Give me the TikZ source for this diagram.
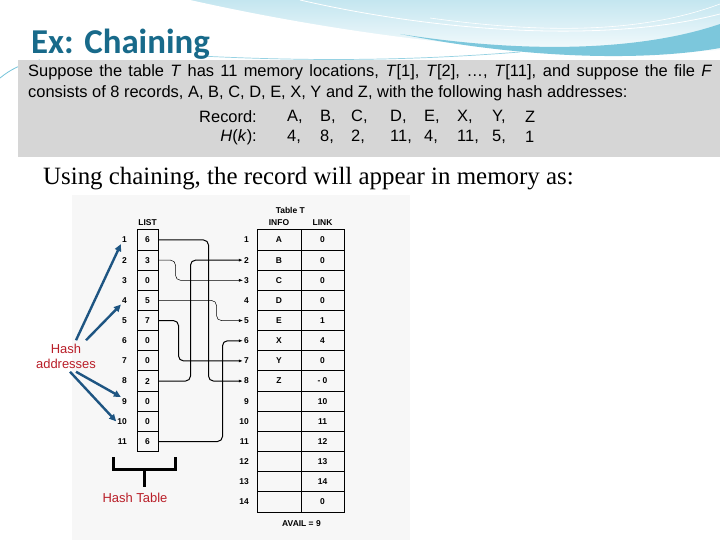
\documentclass[tikz,border=0pt]{standalone}
\usepackage{fontspec}
\setmainfont{Liberation Serif}
\setsansfont{Liberation Sans}
\newfontfamily\titlefont{Carlito}
\usetikzlibrary{arrows.meta, positioning}
\definecolor{slideTeal}{RGB}{24,106,138}
\definecolor{slideRed}{RGB}{185,30,40}
\definecolor{slideBlue}{RGB}{30,85,130}
\definecolor{scanGray}{RGB}{214,214,214}
\definecolor{waveCyan}{RGB}{80,180,208}
\definecolor{waveLight}{RGB}{196,230,240}

\begin{document}
\begin{tikzpicture}[x=1bp, y=-1bp,
  listcell/.style={rectangle, draw, line width=1bp, minimum width=21bp,
                   minimum height=20.15bp, inner sep=0pt,
                   font=\sffamily\bfseries\fontsize{8.5}{10}\selectfont},
  infocell/.style={listcell, minimum width=44bp},
  linkcell/.style={listcell, minimum width=43bp},
  idx/.style={anchor=east, inner sep=1bp,
              font=\sffamily\bfseries\fontsize{8.5}{10}\selectfont},
  head/.style={inner sep=1bp, font=\sffamily\bfseries\fontsize{8.5}{10}\selectfont},
  ptr/.style={-{Latex[length=4bp, width=3bp]}, line width=1bp, rounded corners=5bp},
  ptrthin/.style={ptr, line width=0.5bp},
  hasharrow/.style={-{Triangle[length=7bp, width=6.5bp]}, line width=2.4bp, slideBlue},
  redlabel/.style={font=\sffamily\fontsize{13}{15}\selectfont, text=slideRed, align=center},
  scantext/.style={anchor=west, inner sep=0pt, font=\sffamily\fontsize{16.5}{18}\selectfont},
]
  \useasboundingbox (0,0) rectangle (720,540);
  \fill[white] (0,0) rectangle (720,540);

  % slide banner
  \shade[top color=waveLight, bottom color=white] (0,0) rectangle (720,62);
  \fill[white] (190,0) .. controls (360,38) and (560,62) .. (720,50)
    -- (720,62) -- (0,62) -- (0,0) -- cycle;
  \fill[waveCyan!75] (400,34) .. controls (540,56) and (650,48) .. (720,24)
    -- (720,48) .. controls (640,62) and (520,58) .. (400,34) -- cycle;
  \draw[white, line width=0.8bp] (300,0) .. controls (430,30) and (600,45) .. (720,14);
  \draw[white, line width=0.6bp] (430,18) .. controls (560,36) and (650,30) .. (720,4);
  \draw[waveCyan!60, line width=0.7bp] (200,56) .. controls (320,62) and (420,60) .. (520,52);
  \draw[waveCyan!80, line width=0.8bp] (0,78) .. controls (10,70) and (20,64) .. (40,60);

  \node[anchor=base west, inner sep=0pt, text=slideTeal,
        font=\titlefont\bfseries\fontsize{35}{40}\selectfont] (title) at (31,54) {Ex: Chaining};

  % scanned problem statement
  \fill[scanGray] (18,60) rectangle (720,157);
  \node[scantext] (p1) at (28,72)
    {\makebox[684bp][s]{Suppose the table \textit{T} has 11 memory locations,
     \textit{T}[1], \textit{T}[2], \ldots, \textit{T}[11], and suppose the file \textit{F}}};
  \node[scantext] (p2) at (28,93)
    {consists of 8 records, A, B, C, D, E, X, Y and Z, with the following hash addresses:};
  \node[scantext, anchor=east] (rec) at (257,117) {Record:};
  \node[scantext, anchor=east] (hk) at (257,137) {\textit{H}(\textit{k}):};
  \foreach \x/\r/\h in {287/A/4, 320/B/8, 351/C/2, 390/D/11, 424/E/4, 457/X/11, 492/Y/5} {
    \node[scantext] (r\r) at (\x,117) {\r,};
    \node[scantext] (h\r) at (\x,137) {\h,};
  }
  \node[scantext] (rZ) at (525,117) {Z};
  \node[scantext] (hZ) at (525,137) {1};

  \node[anchor=base west, inner sep=0pt, font=\fontsize{25}{30}\selectfont] (intro) at (43,185)
    {Using chaining, the record will appear in memory as:};

  % scanned memory picture
  \fill[black!3] (72,195) rectangle (410,540);
  \foreach \v [count=\i] in {6,3,0,5,7,0,0,2,0,0,6} {
    \node[listcell] (l\i) at (147.5,{240+20.15*(\i-1)}) {\v};
    \node[idx] (li\i) at (128,{240+20.15*(\i-1)}) {\i};
  }
  \foreach \a/\b [count=\i] in {A/0,B/0,C/0,D/0,E/1,X/4,Y/0,Z/- 0,/10,/11,/12,/13,/14,/0} {
    \node[infocell] (t\i) at (279,{240+20.15*(\i-1)}) {\a};
    \node[linkcell] (k\i) at (322.5,{240+20.15*(\i-1)}) {\b};
    \node[idx] (ri\i) at (250,{240+20.15*(\i-1)}) {\i};
  }
  \node[head, above=3bp of l1] (listhead) {LIST};
  \node[head, above=3bp of t1] (infohead) {INFO};
  \node[head, above=3bp of k1] (linkhead) {LINK};
  \node[head, above=3bp of infohead.north east] (tabT) {Table T};
  \node[head, below=7bp of t14.south east] (avail) {AVAIL = 9};

  \draw[ptr] (l1.east) -- ++(50,0) |- (ri8.west);
  \draw[ptrthin] (l2.east) -- ++(17,0) |- (ri3.west);
  \draw[ptrthin] (l4.east) -- ++(58,0) |- (ri5.west);
  \draw[ptr] (l5.east) -- ++(20,0) |- (ri7.west);
  \draw[ptr] (l8.east) -- ++(32,0) |- (ri2.west);
  \draw[ptr] (l11.east) -- ++(64,0) |- (ri6.west);

  % annotations
  \node[redlabel] (ha) at (66,356) {Hash\\addresses};
  \draw[hasharrow] ([xshift=10bp]ha.north) -- (li1.south west);
  \draw[hasharrow] ([xshift=20bp]ha.north) -- (li4.south west);
  \draw[hasharrow] ([xshift=10bp]ha.south) -- (li9.north west);
  \draw[hasharrow] ([xshift=4bp]ha.south) -- (li10.west);

  \draw[line width=3bp] (113,457) |- (175,469) -- (175,457);
  \node[redlabel] (ht) at (135,498) {Hash Table};
  \draw[line width=3bp] (144,469) -- (144,487);
\end{tikzpicture}
\end{document}
